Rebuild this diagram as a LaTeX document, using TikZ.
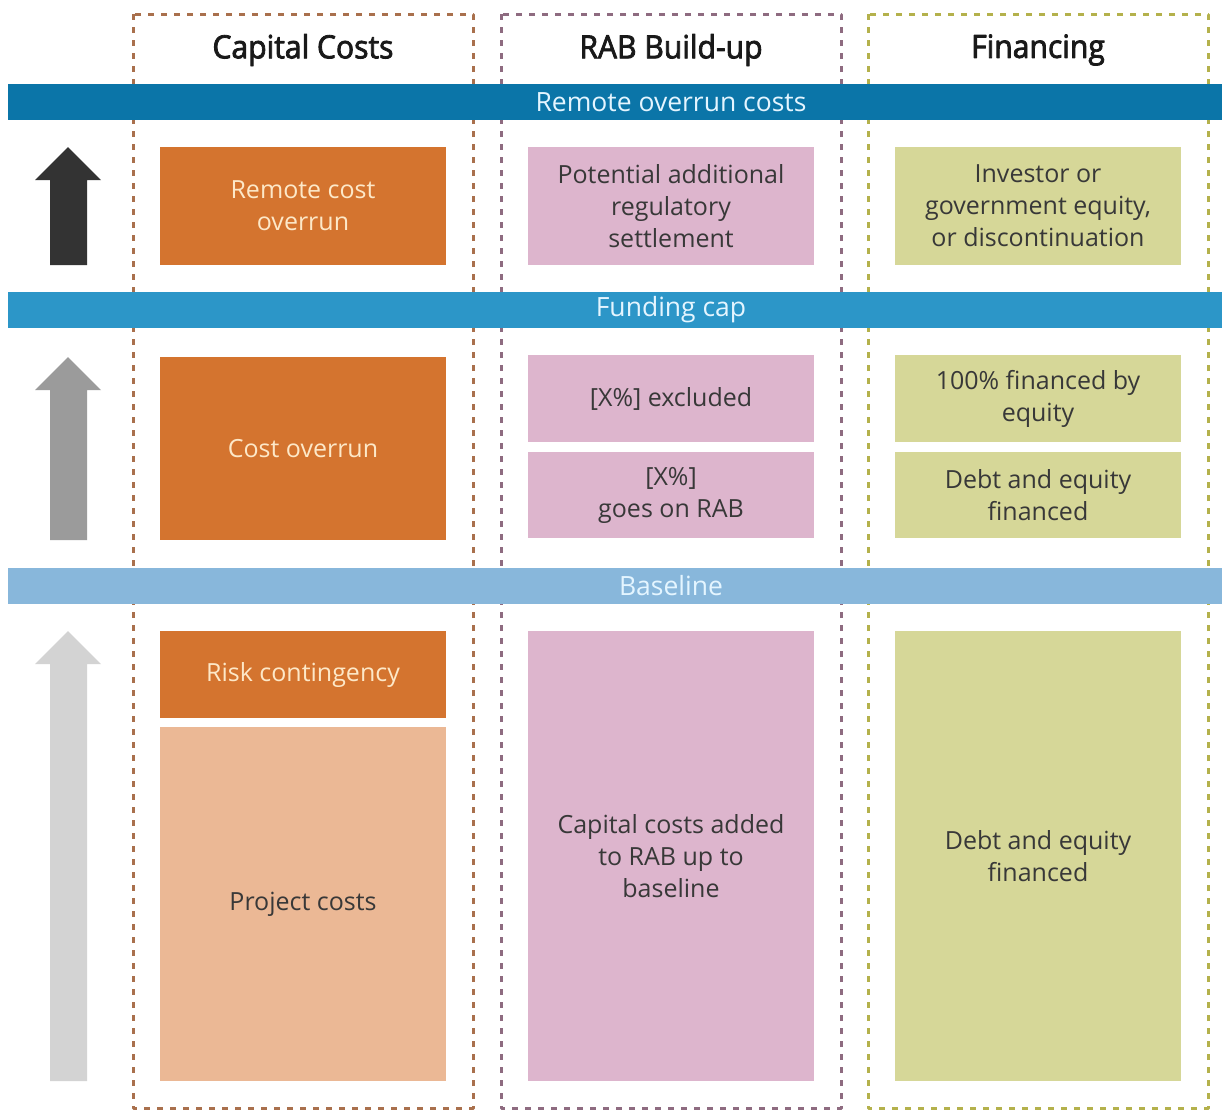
\documentclass[tikz,border=0pt]{standalone}
\usepackage{fontspec}
\setmainfont{Open Sans}
\newfontfamily\headfont[FakeBold=2.5, FakeStretch=0.94]{Open Sans}
\usetikzlibrary{positioning}

\definecolor{bandA}{HTML}{0B75A8}
\definecolor{bandB}{HTML}{2C96C8}
\definecolor{bandC}{HTML}{88B7DB}
\definecolor{capcol}{HTML}{D4742F}
\definecolor{capsoft}{HTML}{EBB895}
\definecolor{rabcol}{HTML}{DDB5CD}
\definecolor{fincol}{HTML}{D6D798}
\definecolor{capdash}{HTML}{A9704D}
\definecolor{rabdash}{HTML}{8E6B80}
\definecolor{findash}{HTML}{B4B14B}
\definecolor{cream}{HTML}{FDE8C8}
\definecolor{ink}{HTML}{383838}
\definecolor{bandink}{HTML}{E4F5FF}
\definecolor{arrowA}{HTML}{333333}
\definecolor{arrowB}{HTML}{9B9B9B}
\definecolor{arrowC}{HTML}{D3D3D3}

\tikzset{
  frame/.style={line width=3pt, dash pattern=on 6pt off 7pt},
  colhead/.style={font=\headfont\fontsize{32}{36}\selectfont, text=black!90},
  bandlabel/.style={font=\fontsize{26.5}{30}\selectfont, text=bandink, inner sep=0pt},
  box/.style={inner sep=0pt, minimum width=286pt, align=center,
    font=\fontsize{25}{32}\selectfont, text=ink},
  capbox/.style={box, fill=capcol, text=cream},
  softbox/.style={box, fill=capsoft},
  rabbox/.style={box, fill=rabcol},
  finbox/.style={box, fill=fincol}
}

\begin{document}
\begin{tikzpicture}[x=1pt, y=-1pt, line join=round]
\useasboundingbox (0,0) rectangle (1222,1111);

% column frames
\foreach \x/\c in {133/capdash, 501/rabdash, 868/findash}
  \draw[\c, frame] (\x,14) rectangle ++(340,1094);

\node[colhead] (hcap) at (303,50) {Capital Costs};
\node[colhead] (hrab) at (671,50) {RAB Build-up};
\node[colhead] (hfin) at (1038,50) {Financing};

% level bands
\fill[bandA] (8,84) rectangle (1222,120);
\fill[bandB] (8,292) rectangle (1222,328);
\fill[bandC] (8,568) rectangle (1222,604);
\node[bandlabel] (remote) at (671,102) {Remote overrun costs};
\node[bandlabel] (cap) at (671,310) {Funding cap};
\node[bandlabel] (base) at (671,586) {Baseline};

% arrows on the left
\foreach \ya/\yb/\c in {147/265/arrowA, 357/540/arrowB, 631/1081/arrowC}
  \fill[\c] (50,\yb) |- (35,\ya+33) -- (68,\ya) -- (101,\ya+33) -| (87,\yb) -- cycle;

% top row
\node[capbox, minimum height=118pt] (rco) at (303,206) {Remote cost\\overrun};
\node[rabbox, minimum height=118pt] (settle) at (671,206) {Potential additional\\regulatory\\settlement};
\node[finbox, minimum height=118pt] (equity) at (1038,206) {Investor or\\government equity,\\or discontinuation};

% middle row
\node[capbox, minimum height=183pt] (co) at (303,448.5) {Cost overrun};
\node[rabbox, minimum height=87pt] (excl) at (671,398.5) {[X\%] excluded};
\node[rabbox, minimum height=86pt] (onrab) at (671,495) {[X\%]\\goes on RAB};
\node[finbox, minimum height=87pt] (full) at (1038,398.5) {100\% financed by\\equity};
\node[finbox, minimum height=86pt] (mixA) at (1038,495) {Debt and equity\\financed};

% bottom row
\node[capbox, minimum height=87pt] (risk) at (303,674.5) {Risk contingency};
\node[softbox, minimum height=354pt] (proj) at (303,904) {Project costs};
\node[rabbox, minimum height=450pt] (added) at (671,856) {Capital costs added\\to RAB up to\\baseline};
\node[finbox, minimum height=450pt] (mixB) at (1038,856) {Debt and equity\\financed};
\end{tikzpicture}
\end{document}
